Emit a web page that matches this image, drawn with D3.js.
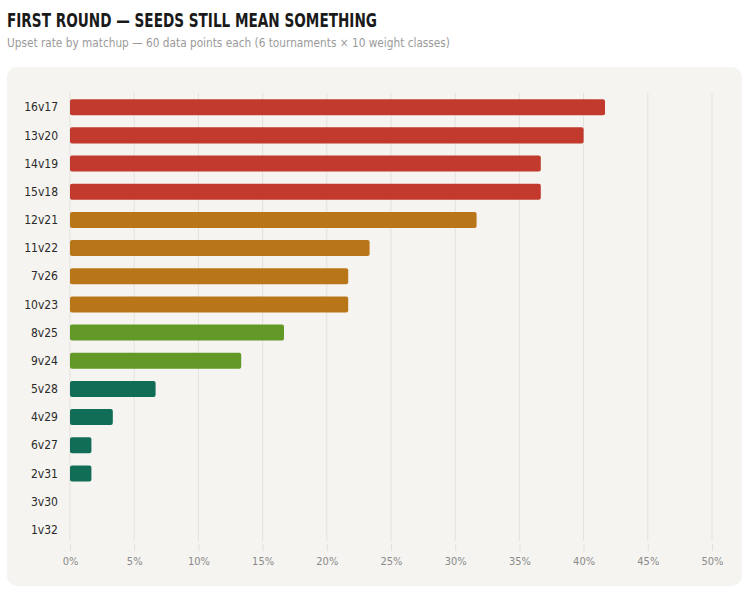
<!DOCTYPE html>
<html lang="en">
<head>
<meta charset="UTF-8">
<title>First round upsets</title>
<style>
    body { margin: 0; background: #fff; }
    svg text { font-family: "DejaVu Sans Condensed", "DejaVu Sans", sans-serif; font-stretch: condensed; }
    .title { font-weight: bold; font-size: 20px; fill: #1a1a1a; }
    .subtitle { font-size: 13px; fill: #9a9a9a; }
    .ylab { font-size: 12px; fill: #2a2a2a; }
    .xaxis text { font-size: 11px; fill: #8a8a8a; }
</style>
</head>
<body>
<svg id="chart" width="754" height="600"></svg>
<script src="https://cdn.jsdelivr.net/npm/d3@7"></script>
<script>
    var matchups = ["16v17","13v20","14v19","15v18","12v21","11v22","7v26","10v23","8v25","9v24","5v28","4v29","6v27","2v31","3v30","1v32"];
    // upsets out of 60 data points
    var upsets = [25,24,22,22,19,14,13,13,10,8,4,2,1,1,0,0];
    var groups = ["red","red","red","red","amber","amber","amber","amber","green","green","teal","teal","teal","teal","teal","teal"];
    var ticks = [0,0.05,0.1,0.15,0.2,0.25,0.3,0.35,0.4,0.45,0.5];

    var colors = {red: "#c23a2d", amber: "#b97619", green: "#629826", teal: "#116d55"};
    var data = matchups.map(function(m, i) { return {m: m, rate: upsets[i] / 60, g: groups[i]}; });

    var svg = d3.select("#chart");

    svg.append("text").attr("class", "title").attr("x", 7).attr("y", 27)
        .attr("textLength", 370).attr("lengthAdjust", "spacingAndGlyphs")
        .text("FIRST ROUND — SEEDS STILL MEAN SOMETHING");
    svg.append("text").attr("class", "subtitle").attr("x", 7).attr("y", 47)
        .attr("textLength", 443).attr("lengthAdjust", "spacingAndGlyphs")
        .text("Upset rate by matchup — 60 data points each (6 tournaments × 10 weight classes)");

    svg.append("rect").attr("x", 7).attr("y", 67).attr("width", 735).attr("height", 519)
        .attr("rx", 10).attr("fill", "#f5f4f0");

    var x = d3.scaleLinear().domain([0, 0.5]).range([70, 712]);
    var y = d3.scaleBand().domain(matchups).range([93, 544]).paddingInner(0.43).paddingOuter(0.22);

    // grid
    svg.append("g").selectAll("line").data(ticks).enter().append("line")
        .attr("x1", function(d) { return x(d); }).attr("x2", function(d) { return x(d); })
        .attr("y1", 93).attr("y2", 541)
        .attr("stroke", "#e3e1dc").attr("stroke-width", 1);

    var xAxis = svg.append("g").attr("class", "xaxis").attr("transform", "translate(0,544)")
        .call(d3.axisBottom(x).tickValues(ticks).tickFormat(d3.format(".0%")).tickSize(7).tickPadding(6));
    xAxis.select(".domain").remove();
    xAxis.selectAll(".tick line").attr("stroke", "#e3e1dc");

    svg.append("g").selectAll("rect").data(data).enter().append("rect")
        .attr("x", x(0))
        .attr("y", function(d) { return y(d.m); })
        .attr("width", function(d) { return x(d.rate) - x(0); })
        .attr("height", y.bandwidth())
        .attr("rx", 2)
        .attr("fill", function(d) { return colors[d.g]; });

    svg.append("g").selectAll("text").data(data).enter().append("text")
        .attr("class", "ylab")
        .attr("x", 58)
        .attr("y", function(d) { return y(d.m) + y.bandwidth() / 2; })
        .attr("dy", "0.35em")
        .attr("text-anchor", "end")
        .text(function(d) { return d.m; });
</script>
</body>
</html>
